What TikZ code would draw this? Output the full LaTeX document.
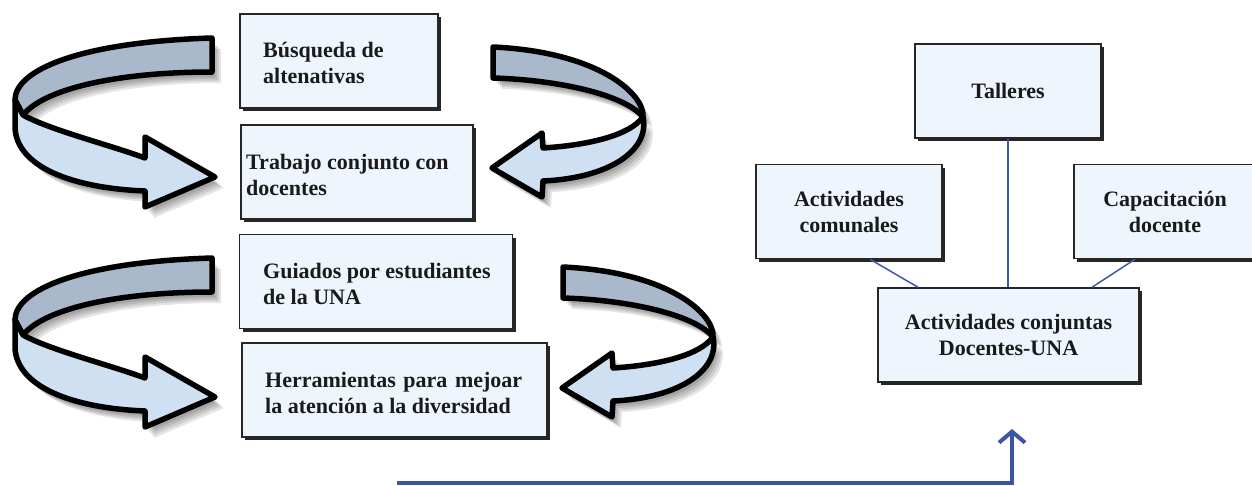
\documentclass[tikz,border=0pt]{standalone}
\usepackage{fontspec}
\setmainfont{Liberation Serif}
\usetikzlibrary{shadows,arrows.meta,calc}
\definecolor{boxfill}{HTML}{EEF5FC}
\definecolor{bandback}{HTML}{A9B9CB}
\definecolor{bandfront}{HTML}{CFE0F2}
\definecolor{linkblue}{HTML}{3F5AA8}
\definecolor{arrowblue}{HTML}{3B55A5}
\definecolor{txt}{HTML}{1A1A1A}
\newcommand\LArrDark{(212,38) -- (212,72) .. controls (120,72) and (45,88) .. (23,115) -- (15,100) .. controls (15,70) and (80,42) .. (212,38) -- cycle}
\newcommand\LArrLight{(15,100) -- (15,128) .. controls (17,166) and (70,188) .. (145,191) -- (145,207) -- (215,177) -- (145,137) -- (145,158) .. controls (110,145) and (50,130) .. (23,115) -- cycle}
\newcommand\RArrDark{(493,47) -- (493,78) .. controls (560,80) and (625,95) .. (643,117) .. controls (645,95) and (600,52) .. (493,47) -- cycle}
\newcommand\RArrLight{(643,117) .. controls (650,150) and (610,178) .. (543,181) -- (542,197) -- (492,168) -- (542,133) -- (543,148) .. controls (590,145) and (630,135) .. (643,117) -- cycle}
\begin{document}
\begin{tikzpicture}[x=1pt,y=-1pt,
  box/.style={draw=black!85, line width=1.5pt, fill=boxfill, inner sep=0pt,
    drop shadow={shadow xshift=3pt, shadow yshift=-3pt, fill=black!85, opacity=1}},
  lbl/.style={font=\fontsize{22}{26}\selectfont\bfseries, text=txt, inner sep=0pt, align=left},
  clbl/.style={font=\fontsize{22}{26}\selectfont\bfseries, text=txt, align=center},
  link/.style={draw=linkblue, line width=1.5pt},
  bshadow/.style={fill=black, opacity=0.1},
  leftarrow/.pic={
    \foreach \s in {3,5,7,9}{\fill[bshadow, shift={(\s,\s+2)}] \LArrDark; \fill[bshadow, shift={(\s,\s+2)}] \LArrLight;}
    \fill[bandback] \LArrDark;
    \draw[black, line width=5.5pt, line join=round] \LArrDark;
    \fill[bandfront] \LArrLight;
    \draw[black, line width=5.5pt, line join=round] \LArrLight;
  },
  rightarrow/.pic={
    \foreach \s in {3,5,7,9}{\fill[bshadow, shift={(\s,\s+2)}] \RArrDark; \fill[bshadow, shift={(\s,\s+2)}] \RArrLight;}
    \fill[bandback] \RArrDark;
    \draw[black, line width=5.5pt, line join=round] \RArrDark;
    \fill[bandfront] \RArrLight;
    \draw[black, line width=5.5pt, line join=round] \RArrLight;
  },
]
\useasboundingbox (0,0) rectangle (1252,485);

% curved arrows
\pic at (0,0) {leftarrow};
\pic at (0,220) {leftarrow};
\pic at (0,0) {rightarrow};
\pic at (70,220) {rightarrow};

% left column boxes
\node[box, minimum width=198pt, minimum height=94pt] (b1) at (339,61) {};
\node[lbl, anchor=west] (t1) at (263,63) {Búsqueda de\\altenativas};
\node[box, minimum width=232pt, minimum height=94pt] (b2) at (357,172) {};
\node[lbl, anchor=west] (t2) at (246,175) {Trabajo conjunto con\\docentes};
\node[box, minimum width=273pt, minimum height=94pt] (b3) at (376,281.5) {};
\node[lbl, anchor=west] (t3) at (263,284) {Guiados por estudiantes\\de la UNA};
\node[box, minimum width=305pt, minimum height=94pt] (b4) at (394.5,390) {};
\node[lbl, anchor=west] (t4) at (265,393) {\hbox to 257pt{Herramientas\hfill para\hfill mejoar}\\la atención a la diversidad};

% right diagram
\node[box, clbl, minimum width=186pt, minimum height=94pt] (b5) at (1008,91) {Talleres};
\node[box, clbl, minimum width=186pt, minimum height=94pt] (b6) at (849,211.5) {Actividades\\comunales};
\node[box, clbl, minimum width=182pt, minimum height=94pt] (b7) at (1165,211.5) {Capacitación\\docente};
\node[box, clbl, minimum width=261pt, minimum height=94pt] (b8) at (1008.5,335) {Actividades conjuntas\\Docentes-UNA};

\draw[link] (b5.south) -- (b5.south |- b8.north);
\draw[link] ($(b6.south)+(21,0)$) -- ($(b8.north)+(-90.5,0)$);
\draw[link] ($(b7.south)+(-30,0)$) -- ($(b8.north)+(83.5,0)$);

% bottom arrow
\coordinate (as) at (397,482.5);
\coordinate (ae) at (1012,429);
\draw[arrowblue, line width=4pt, -{Straight Barb[length=11pt,width=26pt]}] (as) -| (ae);
\end{tikzpicture}
\end{document}
